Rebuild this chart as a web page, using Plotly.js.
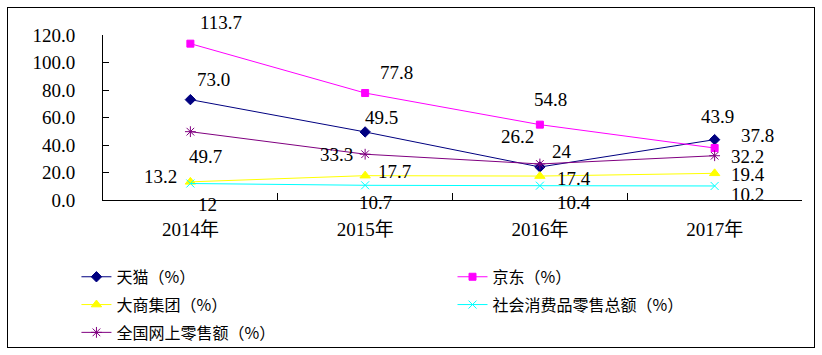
<!DOCTYPE html>
<html><head><meta charset="utf-8">
<script src="https://cdn.plot.ly/plotly-3.0.1.min.js"></script>
<style>
html,body{margin:0;padding:0;background:#fff;}
#wrap{position:relative;width:822px;height:355px;}
#chart{width:822px;height:355px;}
#frame{position:absolute;left:7px;top:7px;width:806px;height:339px;border:1px solid #000;pointer-events:none;}
</style>
</head><body>
<div id="wrap"><div id="chart"></div><div id="frame"></div></div>
<script>
const years = ["2014年", "2015年", "2016年", "2017年"];
const tmall = [73.0, 49.5, 24, 43.9];
const tmallLabels = ["73.0", "49.5", "24", "43.9"];
const jd = [113.7, 77.8, 54.8, 37.8];
const jdLabels = ["113.7", "77.8", "54.8", "37.8"];
const dashang = [13.2, 17.7, 17.4, 19.4];
const dashangLabels = ["13.2", "17.7", "17.4", "19.4"];
const retailTotal = [12, 10.7, 10.4, 10.2];
const retailTotalLabels = ["12", "10.7", "10.4", "10.2"];
const online = [49.7, 33.3, 26.2, 32.2];
const onlineLabels = ["49.7", "33.3", "26.2", "32.2"];
const yTicks = [0, 20, 40, 60, 80, 100, 120];

const numFont = "'Liberation Serif', 'Noto Sans CJK SC', serif";
const cjkFont = "'Noto Sans CJK SC', 'Liberation Serif', sans-serif";

const series = [
  {name: "天猫（%）", y: tmall, labels: tmallLabels, color: "#000080", symbol: "diamond", size: 8, legend: "legend", shifts: [[23,20],[16,14],[22,16],[3,23]]},
  {name: "京东（%）", y: jd, labels: jdLabels, color: "#FF00FF", symbol: "square", size: 7, legend: "legend2", shifts: [[31,21],[31,21],[11,25],[43,13]]},
  {name: "大商集团（%）", y: dashang, labels: dashangLabels, color: "#FFFF00", symbol: "triangle-up", size: 9, legend: "legend", shifts: [[-30,5],[29,4],[34,-2],[33,-1]]},
  {name: "社会消费品零售总额（%）", y: retailTotal, labels: retailTotalLabels, color: "#00FFFF", symbol: "x-thin-open", size: 8, legend: "legend2", shifts: [[17,-21],[10,-17],[34,-17],[33,-9]]},
  {name: "全国网上零售额（%）", y: online, labels: onlineLabels, color: "#800080", symbol: "asterisk-open", size: 9, legend: "legend", shifts: [[15,-25],[-29,0],[-22,27],[33,-1]]}
];

const traces = series.map((s, i) => ({
  type: "scatter", mode: "lines+markers", x: years, y: s.y, name: s.name,
  legend: s.legend, legendgroup: "g" + i,
  line: {color: s.color, width: 1},
  marker: {color: s.color, symbol: s.symbol, size: s.size, line: {color: s.color, width: 1}},
  hoverinfo: "skip"
}));

const annotations = [];
series.forEach(s => {
  s.y.forEach((v, j) => {
    annotations.push({
      x: years[j], y: v, xref: "x", yref: "y", text: s.labels[j], showarrow: false,
      xshift: s.shifts[j][0], yshift: s.shifts[j][1],
      font: {family: numFont, size: 19, color: "#000"}
    });
  });
});

const legendBase = {
  xref: "container", yref: "container", y: 0.268, xanchor: "left", yanchor: "top",
  orientation: "v", traceorder: "grouped", tracegroupgap: 4, bgcolor: "rgba(0,0,0,0)",
  font: {family: cjkFont, size: 16, color: "#000"}
};

const layout = {
  width: 822, height: 355,
  margin: {l: 103, r: 20, t: 35, b: 155, autoexpand: false},
  paper_bgcolor: "#fff", plot_bgcolor: "#fff",
  showlegend: true,
  xaxis: {
    type: "category", range: [-0.5, 3.5], tickson: "boundaries",
    ticks: "inside", ticklen: 7, tickcolor: "#000", tickwidth: 1,
    showline: true, linecolor: "#000", linewidth: 1, showgrid: false, zeroline: false,
    tickfont: {family: numFont, size: 19, color: "#000"}, ticklabelstandoff: 12
  },
  yaxis: {
    range: [0, 120], tickvals: yTicks, ticktext: yTicks.map(v => v.toFixed(1)),
    ticks: "inside", ticklen: 6, tickcolor: "#000", tickwidth: 1,
    showline: true, linecolor: "#000", linewidth: 1, showgrid: false, zeroline: false,
    tickfont: {family: numFont, size: 19, color: "#000"}, ticklabelstandoff: 23
  },
  legend: Object.assign({}, legendBase, {x: 0.093}),
  legend2: Object.assign({}, legendBase, {x: 0.5505}),
  annotations: annotations
};

Plotly.newPlot("chart", traces, layout, {staticPlot: true, displayModeBar: false});
</script>
</body></html>
